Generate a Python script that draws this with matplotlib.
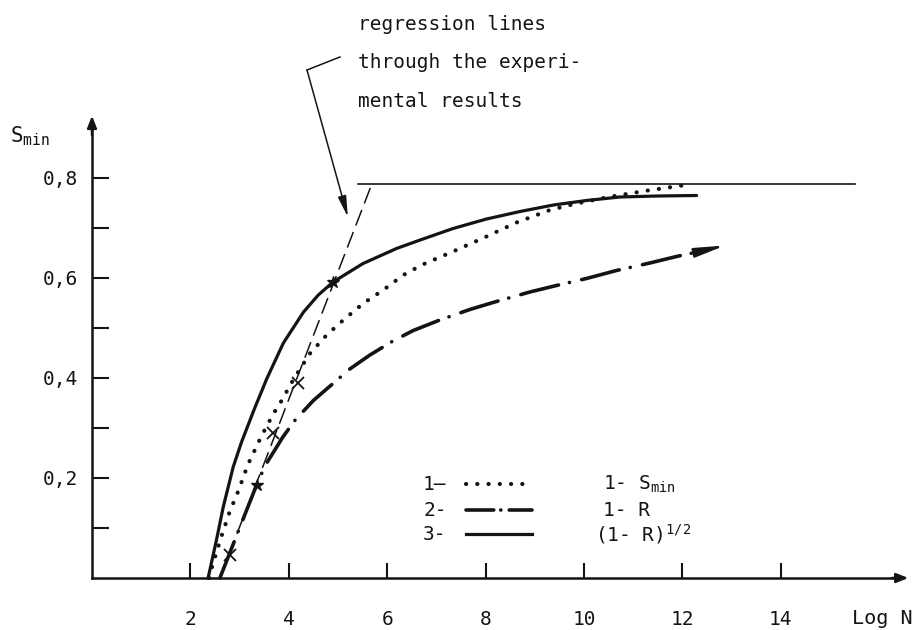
import matplotlib
matplotlib.use("Agg")
import matplotlib.pyplot as plt

plt.rcParams['font.family'] = ['DejaVu Sans Mono', 'DejaVu Sans']
plt.rcParams['mathtext.fontset'] = 'custom'
plt.rcParams['mathtext.rm'] = 'DejaVu Sans Mono'
plt.rcParams['mathtext.it'] = 'DejaVu Sans Mono'
plt.rcParams['lines.scale_dashes'] = False

INK = '#141414'

# axis ticks
x_ticks = [2, 4, 6, 8, 10, 12, 14]
x_tick_labels = ['2', '4', '6', '8', '10', '12', '14']
y_ticks = [0.2, 0.4, 0.6, 0.8]
y_tick_labels = ['0,2', '0,4', '0,6', '0,8']
y_minor = [0.1, 0.3, 0.5, 0.7]

# curve 3: (1 - R)^1/2, solid
solid_logn = [2.36, 2.53, 2.67, 2.87, 3.04, 3.30, 3.55, 3.89, 4.30, 4.60, 4.90, 5.51, 6.19,
              6.67, 7.34, 8.02, 8.70, 9.38, 10.05, 10.73, 11.5, 12.29]
solid_s = [0.0, 0.076, 0.143, 0.222, 0.272, 0.338, 0.398, 0.47, 0.532, 0.566, 0.592, 0.629, 0.659,
           0.676, 0.699, 0.718, 0.733, 0.746, 0.755, 0.762, 0.764, 0.765]

# curve 1: 1 - Smin, dotted
dot_logn = [2.38, 2.43, 2.62, 2.80, 2.97, 3.17, 3.45, 3.69, 3.82, 4.10, 4.43, 4.77, 5.11, 5.51,
            5.92, 6.33, 6.70, 7.34, 8.02, 8.63, 9.31, 9.85, 10.5, 11.3, 12.0]
dot_s = [0.0, 0.019, 0.08, 0.133, 0.173, 0.227, 0.285, 0.329, 0.349, 0.398, 0.449, 0.486, 0.516,
         0.549, 0.576, 0.606, 0.626, 0.653, 0.683, 0.711, 0.736, 0.749, 0.762, 0.775, 0.785]

# curve 2: 1 - R, dash-dot with arrow at the end
dd_logn = [2.60, 2.80, 3.10, 3.35, 3.52, 3.88, 4.13, 4.50, 4.90, 5.24, 5.65, 6.10, 6.53, 7.07,
           7.68, 8.22, 8.90, 9.44, 10.05, 10.66, 11.34, 11.88, 12.30]
dd_s = [0.0, 0.05, 0.125, 0.187, 0.225, 0.282, 0.316, 0.355, 0.389, 0.418, 0.446, 0.473, 0.495,
        0.516, 0.537, 0.553, 0.572, 0.585, 0.599, 0.615, 0.630, 0.643, 0.652]
dd_tip = (12.87, 0.665)

# regression line and limit line
reg_logn = [2.60, 5.68]
reg_s = [0.0, 0.786]
limit_logn = [5.40, 15.5]
limit_s = [0.788, 0.788]

# experimental points
cross_logn = [2.80, 3.68, 4.19]
cross_s = [0.046, 0.29, 0.39]
star_logn = [3.35, 4.90]
star_s = [0.187, 0.592]

fig = plt.figure(figsize=(9.19, 6.30), dpi=100)
ax = fig.add_axes([0, 0, 1, 1])
ax.set_xlim(-1.87, 16.81)
ax.set_ylim(-0.104, 1.156)

for side in ('top', 'right'):
    ax.spines[side].set_visible(False)
ax.spines['left'].set_position(('data', 0))
ax.spines['bottom'].set_position(('data', 0))
ax.spines['left'].set_bounds(0, 0.90)
ax.spines['bottom'].set_bounds(0, 16.3)
for side in ('left', 'bottom'):
    ax.spines[side].set_linewidth(1.8)
    ax.spines[side].set_color(INK)

ax.set_xticks(x_ticks)
ax.set_xticklabels(x_tick_labels)
ax.set_yticks(y_ticks)
ax.set_yticklabels(y_tick_labels)
ax.set_yticks(y_minor, minor=True)
ax.tick_params(axis='x', direction='in', length=10.5, width=1.5, pad=23,
               labelsize=14, colors=INK)
ax.tick_params(axis='y', which='both', direction='in', length=12, width=1.5,
               pad=10, labelsize=14, colors=INK)

# axis arrows
ax.annotate('', xy=(16.65, 0), xytext=(16.2, 0),
            arrowprops=dict(arrowstyle='-|>,head_length=0.5,head_width=0.2',
                            color=INK, lw=1.8, mutation_scale=14))
ax.annotate('', xy=(0, 0.93), xytext=(0, 0.88),
            arrowprops=dict(arrowstyle='-|>,head_length=0.5,head_width=0.2',
                            color=INK, lw=1.8, mutation_scale=14))

ax.text(-1.66, 0.872, r'S$_{\mathregular{min}}$', fontsize=15, color=INK,
        ha='left', va='baseline')
ax.text(16.06, -0.08, 'Log N', fontsize=14.5, color=INK, ha='center', va='center')

# curves
ax.plot(limit_logn, limit_s, color=INK, lw=1.2)
ax.plot(reg_logn, reg_s, color=INK, lw=1.1, linestyle=(0, (12, 5)))
ax.plot(solid_logn, solid_s, color=INK, lw=2.3, solid_capstyle='round',
        solid_joinstyle='round')
ax.plot(dot_logn, dot_s, color=INK, lw=3.0, linestyle=(0, (0.1, 8)),
        dash_capstyle='round')
ax.plot(dd_logn, dd_s, color=INK, lw=2.6, linestyle=(0, (28, 8, 0.1, 9)),
        dash_capstyle='round')
ax.annotate('', xy=dd_tip, xytext=(dd_logn[-1], dd_s[-1]),
            arrowprops=dict(arrowstyle='-|>,head_length=1.3,head_width=0.2',
                            color=INK, lw=1.6, mutation_scale=14,
                            shrinkA=0, shrinkB=0))

ax.plot(cross_logn, cross_s, linestyle='none', marker='x', ms=9, mew=1.3, color=INK)
ax.plot(star_logn, star_s, linestyle='none', marker='*', ms=9, color=INK)

# annotation
note_lines = ['regression lines', 'through the experi-', 'mental results']
note_y = [1.096, 1.02, 0.942]
for line, y in zip(note_lines, note_y):
    ax.text(5.41, y, line, fontsize=14, color=INK, ha='left', va='baseline')
ax.plot([5.04, 4.37], [1.042, 1.016], color=INK, lw=1.1)
ax.annotate('', xy=(5.2, 0.722), xytext=(4.37, 1.016),
            arrowprops=dict(arrowstyle='-|>,head_length=0.9,head_width=0.18',
                            color=INK, lw=1.1, mutation_scale=14, shrinkA=0, shrinkB=0))

# legend
leg_left = ['1—', '2-', '3-']
leg_right = [r'1- S$_{\mathregular{min}}$', '1- R', r'(1- R)$^{\mathregular{1/2}}$']
leg_y = [0.188, 0.136, 0.088]
leg_right_x = [10.39, 10.39, 10.22]
leg_styles = [
    dict(lw=3.0, linestyle=(0, (0.1, 8)), dash_capstyle='round'),
    dict(lw=2.6, linestyle=(0, (20, 5, 0.1, 6)), dash_capstyle='round'),
    dict(lw=2.3, linestyle='-'),
]
for lab, rlab, y, rx, st in zip(leg_left, leg_right, leg_y, leg_right_x, leg_styles):
    ax.text(6.73, y, lab, fontsize=14, color=INK, ha='left', va='center')
    ax.plot([7.6, 8.95], [y, y], color=INK, **st)
    ax.text(rx, y, rlab, fontsize=14, color=INK, ha='left', va='center')

fig.savefig('out.png', dpi=100, facecolor='white')
